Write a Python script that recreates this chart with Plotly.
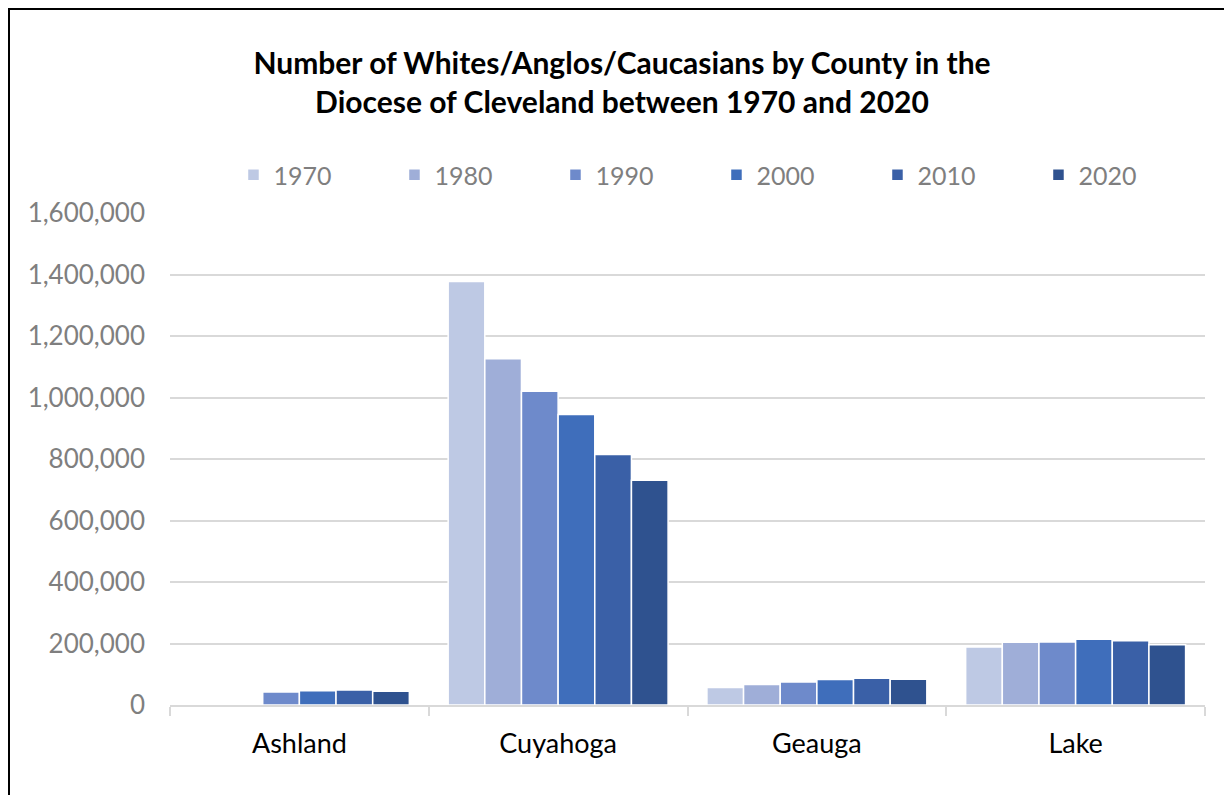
import plotly.graph_objects as go

# Data
counties = ["Ashland", "Cuyahoga", "Geauga", "Lake"]
years = ["1970", "1980", "1990", "2000", "2010", "2020"]

pop_1970 = [None, 1377000, 57000, 189000]
pop_1980 = [None, 1126000, 67000, 204000]
pop_1990 = [42000, 1020000, 75000, 205000]
pop_2000 = [46000, 945000, 83000, 214000]
pop_2010 = [49000, 815000, 87000, 209000]
pop_2020 = [45000, 731000, 84000, 196000]

series = [pop_1970, pop_1980, pop_1990, pop_2000, pop_2010, pop_2020]
colors = ["#BEC9E4", "#9FAED8", "#6E8ACB", "#3F6EBB", "#3A60A7", "#2F528F"]

FONT = "Lato"

fig = go.Figure()
for yr, vals, col in zip(years, series, colors):
    fig.add_trace(go.Bar(
        x=counties,
        y=vals,
        name=yr,
        marker=dict(color=col, line=dict(color="white", width=1.5)),
    ))

# the page has an 8px body margin, so size the figure to fit the window
W, H = 1224, 787
fig.update_layout(
    width=W,
    height=H,
    paper_bgcolor="white",
    plot_bgcolor="white",
    barmode="group",
    bargap=0.15,
    bargroupgap=0,
    font=dict(family=FONT, size=26, color="#7F7F7F"),
    title=dict(
        text="<b>Number of Whites/Anglos/Caucasians by County in the<br>"
             "Diocese of Cleveland between 1970 and 2020</b>",
        x=614 / W, xanchor="center",
        y=1 - 66 / H, yanchor="middle",
        font=dict(family=FONT, size=30, color="black"),
    ),
    legend=dict(
        orientation="h",
        x=0.528, xanchor="center",
        y=1.077, yanchor="middle",
        font=dict(family=FONT, size=25, color="#7F7F7F"),
        entrywidth=116,
        itemwidth=30,
    ),
    margin=dict(l=162, r=27, t=205, b=90),
    xaxis=dict(
        showline=True,
        linecolor="#D9D9D9",
        linewidth=1.5,
        ticks="outside",
        tickson="boundaries",
        ticklen=9,
        tickcolor="#D9D9D9",
        tickwidth=1.5,
        ticklabelstandoff=14,
        tickfont=dict(family=FONT, size=27, color="black"),
        showgrid=False,
    ),
    yaxis=dict(
        range=[0, 1600000],
        dtick=200000,
        tickformat=",d",
        showgrid=True,
        gridcolor="#D9D9D9",
        gridwidth=1.5,
        zeroline=False,
        showline=False,
        ticklabelstandoff=24,
        tickfont=dict(family=FONT, size=26, color="#7F7F7F"),
    ),
    shapes=[dict(
        type="rect", xref="paper", yref="paper",
        x0=(9 - 170) / 1035, x1=(1230 - 170) / 1035,
        y0=(705 - 830) / 492, y1=(705 - 9) / 492,
        line=dict(color="black", width=2),
        fillcolor="rgba(0,0,0,0)",
        layer="above",
    )],
)

fig.write_html("out.html")
